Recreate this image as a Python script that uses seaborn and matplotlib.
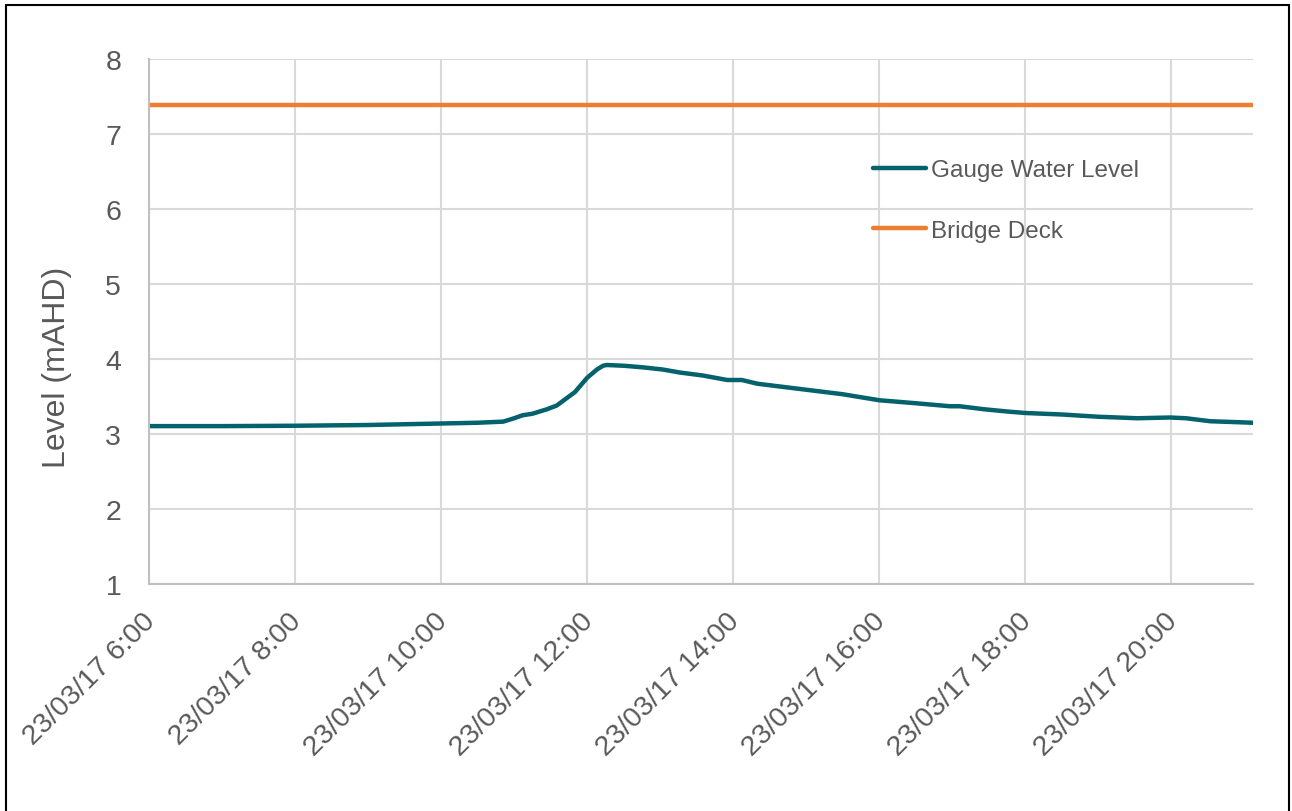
import matplotlib
matplotlib.use("Agg")
import matplotlib.pyplot as plt
import matplotlib.dates as mdates
from matplotlib.ticker import FuncFormatter, MultipleLocator
from matplotlib.patches import Rectangle
import seaborn as sns
import pandas as pd

# ---- data ----
times = ["06:00", "07:00", "08:00", "09:00", "10:00", "10:30", "10:51", "11:00", "11:07",
         "11:15", "11:27", "11:35", "11:40", "11:50", "12:00", "12:08", "12:13", "12:16",
         "12:30", "12:45", "13:02", "13:16", "13:35", "13:55", "14:07", "14:20", "14:40",
         "15:00", "15:30", "16:00", "16:30", "16:58", "17:06", "17:26", "17:45", "18:00",
         "18:30", "19:00", "19:16", "19:32", "19:59", "20:12", "20:32", "20:50", "21:07"]
gauge_level = [3.105, 3.105, 3.11, 3.12, 3.14, 3.15, 3.165, 3.21, 3.25,
               3.27, 3.33, 3.38, 3.44, 3.56, 3.75, 3.86, 3.91, 3.92,
               3.91, 3.89, 3.86, 3.82, 3.78, 3.72, 3.72, 3.67, 3.63,
               3.59, 3.53, 3.45, 3.41, 3.37, 3.37, 3.33, 3.30, 3.28,
               3.26, 3.23, 3.22, 3.21, 3.22, 3.21, 3.17, 3.16, 3.15]
bridge_deck = 7.39
series_names = ["Gauge Water Level", "Bridge Deck"]
date = "2017-03-23"

t = pd.to_datetime([f"{date} {s}" for s in times])
df = pd.DataFrame({"Time": list(t) * 2,
                   "Level": gauge_level + [bridge_deck] * len(t),
                   "Series": [series_names[0]] * len(t) + [series_names[1]] * len(t)})

sns.set_style("white")
plt.rcParams["font.family"] = ["Liberation Sans", "DejaVu Sans"]

fig = plt.figure(figsize=(12.92, 8.12), dpi=100)
ax = fig.add_axes([149 / 1292, 1 - 585 / 812, (1253 - 149) / 1292, (585 - 60) / 812])

palette = {series_names[0]: "#03626B", series_names[1]: "#ED7D31"}
sns.lineplot(data=df, x="Time", y="Level", hue="Series", palette=palette,
             linewidth=3.2, ax=ax, legend=True)

ax.set_xlim(pd.Timestamp(f"{date} 06:00"), pd.Timestamp(f"{date} 21:07"))
ax.set_ylim(1, 8)
ax.yaxis.set_major_locator(MultipleLocator(1))
ax.xaxis.set_major_locator(mdates.HourLocator(byhour=range(0, 24, 2)))
ax.xaxis.set_major_formatter(FuncFormatter(
    lambda v, p: (lambda d: f"{d:%d/%m/%y} {d.hour}:{d:%M}")(mdates.num2date(v))))

ax.grid(True, color="#D9D9D9", linewidth=1.5)
ax.set_axisbelow(True)
for s in ["top", "right"]:
    ax.spines[s].set_visible(False)
for s in ["left", "bottom"]:
    ax.spines[s].set_color("#BFBFBF")
    ax.spines[s].set_linewidth(1.5)

ax.tick_params(axis="both", colors="#BFBFBF", labelcolor="#595959", labelsize=20.5,
               length=8, width=1.5)
ax.tick_params(axis="y", pad=12)
ax.tick_params(axis="x", pad=14)
for lab in ax.get_xticklabels():
    lab.set_rotation(45)
    lab.set_ha("right")
    lab.set_va("center_baseline")
    lab.set_rotation_mode("anchor")

ax.set_xlabel("")
ax.set_ylabel("Level (mAHD)", fontsize=23, color="#595959")
ax.yaxis.set_label_coords(-0.0697, 0.415)

handles, labels = ax.get_legend_handles_labels()
ax.legend(handles, labels, loc="upper left", bbox_to_anchor=(873 / 1292, 1 - 160 / 812),
          bbox_transform=fig.transFigure, frameon=False, fontsize=17.5,
          labelcolor="#595959", handlelength=2.2, handletextpad=0.2,
          labelspacing=1.6, borderpad=0, borderaxespad=0)

fig.patches.append(Rectangle((5.5 / 1292, -0.05), (1289 - 5.5) / 1292, 1.05 - 5.5 / 812,
                             transform=fig.transFigure, fill=False, edgecolor="black",
                             linewidth=1.5))

fig.savefig("out.png", dpi=100)
